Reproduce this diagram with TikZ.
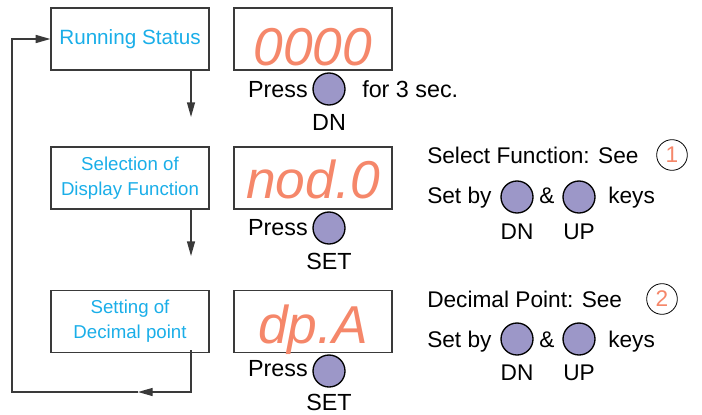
\documentclass[tikz,border=0pt]{standalone}
\usepackage{fontspec}
\setmainfont{Liberation Sans}
\usepackage{xcolor}
\usetikzlibrary{positioning, arrows.meta}
\definecolor{segorange}{HTML}{F5876A}
\definecolor{stepblue}{HTML}{1AAEE8}
\definecolor{keyviolet}{HTML}{9C97C8}
\definecolor{framegray}{HTML}{3A3A3A}

\begin{document}
\begin{tikzpicture}[x=0.75pt, y=-0.75pt,
    stagebox/.style={draw=framegray, line width=0.9pt, minimum width=118.5pt, minimum height=46.5pt,
                     inner sep=0pt, align=center, text=stepblue, font=\fontsize{14}{18.5}\selectfont},
    dispbox/.style={draw=framegray, line width=0.9pt, minimum width=118.5pt, minimum height=46.5pt,
                    inner sep=0pt},
    readout/.style={anchor=base, inner sep=0pt, text=segorange, font=\fontsize{40}{40}\selectfont\itshape},
    keybtn/.style={circle, draw=black, line width=1pt, fill=keyviolet, minimum size=24pt, inner sep=0pt},
    seenum/.style={circle, draw=black, line width=0.6pt, minimum size=23pt, inner sep=0pt,
                   text=segorange, font=\fontsize{17}{17}\selectfont},
    presstxt/.style={font=\fontsize{17.5}{17.5}\selectfont, inner sep=0pt},
    infotxt/.style={font=\fontsize{17}{17}\selectfont, inner sep=0pt},
    flow/.style={draw=framegray, line width=1pt},
    tip/.style={-{Triangle[length=11pt, width=6pt]}}
  ]
  \useasboundingbox (0,0) rectangle (702,414);

  % left column: stages
  \node[stagebox, font=\fontsize{15.5}{15.5}\selectfont] (stage1) at (130,39) {Running Status};
  \node[stagebox] (stage2) at (130,178) {Selection of\\Display Function};
  \node[stagebox] (stage3) at (130,321.5) {Setting of\\Decimal point};

  % displays
  \node[dispbox] (disp1) at (313,39) {};
  \node[dispbox] (disp2) at (313,178) {};
  \node[dispbox] (disp3) at (313,321.5) {};
  \node[readout] (read1) at ([yshift=4pt]disp1.south) {0000};
  \node[readout] (read2) at ([yshift=8.5pt]disp2.south) {nod.0};
  \node[readout] (read3) at ([yshift=7pt]disp3.south) {dp.A};

  % keys under the displays
  \node[keybtn] (dnkey1) at (329,89) {};
  \node[presstxt, anchor=base east] (press1) at (308,97) {Press};
  \node[presstxt, anchor=base west] (hold1) at (362,97) {for 3 sec.};
  \node[presstxt, below=6.5pt of dnkey1] (dnlbl1) {DN};

  \node[keybtn] (setkey2) at (329,228) {};
  \node[presstxt, anchor=base east] (press2) at (308,235) {Press};
  \node[presstxt, below=6pt of setkey2] (setlbl2) {SET};

  \node[keybtn] (setkey3) at (329,371) {};
  \node[presstxt, anchor=base east] (press3) at (308,376) {Press};
  \node[presstxt, below=5pt of setkey3] (setlbl3) {SET};

  % right column notes
  \node[infotxt, anchor=base west] (selfunc) at (427,163) {Select Function: See};
  \node[seenum] (see1) at (672,155) {1};
  \node[infotxt, anchor=base west] (setby1) at (427,203) {Set by};
  \node[keybtn] (dnkey4) at (517,197) {};
  \node[infotxt, anchor=base west] (amp1) at (539,203) {\&};
  \node[keybtn] (upkey4) at (579,197) {};
  \node[infotxt, anchor=base west] (keys1) at (608,203) {keys};
  \node[infotxt, below=7.5pt of dnkey4] (dnlbl4) {DN};
  \node[infotxt, below=7.5pt of upkey4] (uplbl4) {UP};

  \node[infotxt, anchor=base west] (decpt) at (427,307) {Decimal Point: See};
  \node[seenum] (see2) at (662,299) {2};
  \node[infotxt, anchor=base west] (setby2) at (427,347) {Set by};
  \node[keybtn] (dnkey5) at (517,339) {};
  \node[infotxt, anchor=base west] (amp2) at (539,347) {\&};
  \node[keybtn] (upkey5) at (579,339) {};
  \node[infotxt, anchor=base west] (keys2) at (608,347) {keys};
  \node[infotxt, below=6.5pt of dnkey5] (dnlbl5) {DN};
  \node[infotxt, below=6.5pt of upkey5] (uplbl5) {UP};

  % flow arrows
  \coordinate (drop1) at (191,117);
  \coordinate (drop2) at (191,256);
  \coordinate (loopr) at (191,392);
  \coordinate (loopmid) at (138,392);
  \coordinate (loopl) at (12,392);
  \draw[flow, tip] (stage1.south -| drop1) -- (drop1);
  \draw[flow, tip] (stage2.south -| drop2) -- (drop2);
  \draw[flow, tip] ([yshift=2pt]stage3.south -| loopr) -- (loopr) -- (loopmid);
  \draw[flow, tip] (loopmid) -- (loopl) |- (stage1.west);
\end{tikzpicture}
\end{document}
